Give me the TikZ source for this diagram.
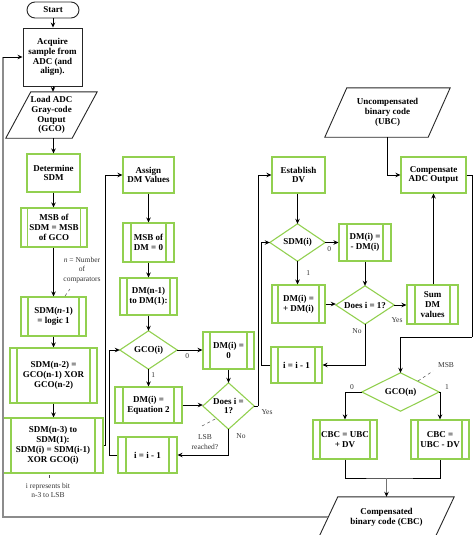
\documentclass[tikz,border=0pt]{standalone}
\usepackage{fontspec}
\setmainfont{Liberation Serif}
\usetikzlibrary{shapes.geometric,arrows.meta,calc}
\definecolor{gboxc}{RGB}{146,208,80}
\newcommand\mypara[2]{\draw[kline] ($(#1.north west)+(#2,0)$) -- (#1.north east) -- ($(#1.south east)-(#2,0)$) -- (#1.south west) -- cycle;}
\newcommand\mydia[1]{\draw[gboxc, line width=1.1pt] (#1.north) -- (#1.east) -- (#1.south) -- (#1.west) -- cycle;}
\tikzset{
  base/.style={align=center, inner sep=0.5pt, font=\fontsize{9}{9.8}\selectfont\bfseries},
  kline/.style={draw=black!85, line width=0.9pt},
  gbox/.style={base, draw=gboxc, line width=1.1pt, fill=white},
  kbox/.style={base, draw=black!85, line width=0.9pt, fill=white},
  proc/.style={gbox, path picture={
     \draw[gboxc, line width=1.1pt] ($(path picture bounding box.north west)+(#1,0)$) -- ($(path picture bounding box.south west)+(#1,0)$);
     \draw[gboxc, line width=1.1pt] ($(path picture bounding box.north east)-(#1,0)$) -- ($(path picture bounding box.south east)-(#1,0)$);}},
  proc/.default=7,
  dia/.style={base, inner sep=0pt},
  conn/.style={draw=black, line width=0.85pt, -{Stealth[length=5pt,width=4.5pt]}},
  plain/.style={draw=black, line width=0.85pt},
  fb/.style={draw=black!45, line width=1.5pt},
  lab/.style={font=\fontsize{7.5}{9}\selectfont, inner sep=0.5pt, text=black!80, align=center},
  lead/.style={draw=black!70, line width=0.5pt, dashed}
}
\begin{document}
\begin{tikzpicture}[x=1pt,y=-1pt]
\useasboundingbox (0,0) rectangle (474,535);
\clip (0,0) rectangle (474,535);
% --- left column
\node[kbox, rounded corners=8pt, minimum width=52, minimum height=16] (start) at (53,10) {Start};
\node[kbox, minimum width=59, minimum height=58] (acq) at (52.5,57) {Acquire\\sample from\\ADC (and\\align).};
\node[base, minimum width=91, minimum height=46] (load) at (51.5,115) {Load ADC\\Gray-code\\Output\\(GCO)};
\mypara{load}{25}
\node[gbox, minimum width=53, minimum height=38] (detsdm) at (53.5,173) {Determine\\SDM};
\node[proc=6.5, minimum width=66, minimum height=39] (msbsdm) at (54,227.5) {MSB of\\SDM = MSB\\of GCO};
\node[proc=7, minimum width=65, minimum height=39] (sdm1) at (53.5,316.5) {SDM(\textit{n}-1)\\= logic 1};
\node[proc=7, minimum width=87, minimum height=55] (sdm2) at (53.5,375.5) {SDM(n-2) =\\GCO(n-1) XOR\\GCO(n-2)};
\node[proc=8, minimum width=100, minimum height=55] (sdm3) at (53,445.5) {SDM(n-3) to\\SDM(1):\\SDM(i) = SDM(i-1)\\XOR GCO(i)};
% --- DM column
\node[gbox, minimum width=51, minimum height=36] (assign) at (148.5,175) {Assign\\DM Values};
\node[proc=8, minimum width=51, minimum height=39] (msbdm) at (148.5,242.5) {MSB of\\DM = 0};
\node[proc=7, minimum width=57, minimum height=37] (dmn1) at (148.5,296.5) {DM(n-1)\\to DM(1):};
\node[dia, minimum width=57, minimum height=38] (gcoi) at (148.5,350) {GCO(i)};
\mydia{gcoi}
\node[proc=7, minimum width=51, minimum height=37] (dmi0) at (228.5,350.5) {DM(i) =\\0};
\node[proc=8, minimum width=67, minimum height=36] (dmeq) at (148.5,405) {DM(i) =\\Equation 2};
\node[dia, minimum width=51, minimum height=46] (doesi) at (228.5,406) {Does i =\\1?};
\mydia{doesi}
\node[proc=8, minimum width=59, minimum height=36] (iim1) at (147.5,455) {i = i - 1};
% --- DV column
\node[gbox, minimum width=53, minimum height=36] (estdv) at (298.5,175) {Establish\\DV};
\node[dia, minimum width=55, minimum height=37] (sdmi) at (297.5,242.5) {SDM(i)};
\mydia{sdmi}
\node[proc=8, minimum width=52, minimum height=37] (dmneg) at (365,242.5) {DM(i) =\\- DM(i)};
\node[proc=6, minimum width=53, minimum height=38] (dmpos) at (298.5,304) {DM(i) =\\+ DM(i)};
\node[dia, minimum width=58, minimum height=38] (doesi2) at (365,305) {Does i = 1?};
\mydia{doesi2}
\node[proc=8, minimum width=51, minimum height=39] (sum) at (432.5,304.5) {Sum\\DM\\values};
\node[proc=7, minimum width=51, minimum height=36] (iim2) at (296.5,365) {i = i - 1};
% --- compensation
\node[gbox, minimum width=65, minimum height=36] (comp) at (433.5,175) {Compensate\\ADC Output};
\node[base, minimum width=125, minimum height=49] (ubc) at (387.5,112.5) {Uncompensated\\binary code\\(UBC)};
\mypara{ubc}{22}
\node[dia, minimum width=77, minimum height=38] (gcon) at (400.5,392) {GCO(n)};
\mydia{gcon}
\node[proc=7, minimum width=64, minimum height=39] (cbcp) at (345,439.5) {CBC = UBC\\+ DV};
\node[proc=7, minimum width=58, minimum height=39] (cbcm) at (440,439.5) {CBC =\\UBC - DV};
\node[base, minimum width=135, minimum height=40] (cbc) at (386.5,517) {Compensated\\binary code (CBC)};
\mypara{cbc}{19}
% --- coordinates
\coordinate (fbc) at (3,57);
\coordinate (cbcl) at ($(cbc.west)+(9.5,0)$);
\coordinate (rt) at (472,337);
\coordinate (mg) at (386.5,478);
% --- feedback loop
\draw[fb] (cbcl) -| (fbc);
\draw[conn] (fbc) -- (acq.west);
% --- left column connectors
\draw[conn] (start.south) -- (start.south |- acq.north);
\draw[conn] (acq.south -| start.south) -- (start.south |- load.north);
\draw[conn] (load.south -| detsdm.north) -- (detsdm.north);
\draw[conn] (detsdm.south) -- (detsdm.south |- msbsdm.north);
\draw[conn] (msbsdm.south -| detsdm.south) -- (detsdm.south |- sdm1.north);
\draw[conn] (sdm1.south) -- (sdm1.south |- sdm2.north);
\draw[conn] (sdm2.south) -- (sdm2.south |- sdm3.north);
\draw[conn] (sdm3.east) -- ++(2,0) |- (assign.west);
% --- DM connectors
\draw[conn] (assign.south) -- (msbdm.north);
\draw[conn] (msbdm.south) -- (dmn1.north);
\draw[conn] (dmn1.south) -- (gcoi.north);
\draw[conn] (gcoi.east) -- (gcoi.east -| dmi0.west) node[lab, pos=0.4, below=3pt] {0};
\draw[conn] (gcoi.south) -- (dmeq.north) node[lab, pos=0.35, right=2pt] {1};
\draw[conn] (dmi0.south) -- (doesi.north);
\draw[conn] (dmeq.east) -- (dmeq.east -| doesi.west);
\draw[plain] (doesi.east) -- ++(4,0) coordinate (yes1);
\draw[conn] (yes1) |- (estdv.west);
\draw[conn] (doesi.south) |- (iim1.east);
\draw[conn] (iim1.west) -- ++(-8,0) |- (gcoi.west);
% --- DV connectors
\draw[conn] (estdv.south -| sdmi.north) -- (sdmi.north);
\draw[conn] (sdmi.east) -- (sdmi.east -| dmneg.west) node[lab, pos=0.3, below=3pt] {0};
\draw[conn] (sdmi.south) -- (sdmi.south |- dmpos.north) node[lab, pos=0.5, right=8pt] {1};
\draw[conn] (dmneg.south) -- (doesi2.north);
\draw[conn] (dmpos.east) -- (dmpos.east -| doesi2.west);
\draw[conn] (doesi2.east) -- (doesi2.east -| sum.west);
\draw[conn] (doesi2.south) |- (iim2.east);
\draw[conn] (iim2.west) -- ++(-9,0) |- (sdmi.west);
\draw[conn] (sum.north -| comp.south) -- (comp.south);
\draw[conn] (ubc.south) |- (comp.west);
\draw[plain] (comp.east) -| (rt);
\draw[conn] (rt) -| (gcon.north);
\draw[conn] (gcon.west) -| (cbcp.north);
\draw[conn] (gcon.east) -| (cbcm.north);
\draw[plain] (cbcp.south) |- (mg) -| (cbcm.south);
\draw[draw=black!55, line width=0.85pt, -{Stealth[length=5pt,width=4.5pt,black]}] (mg) -- (cbc.north);
% --- labels
\node[lab] (yeslab1) at (267,412) {Yes};
\node[lab] (nolab1) at (241,436) {No};
\node[lab] (yeslab2) at (397,320) {Yes};
\node[lab] (nolab2) at (357,331) {No};
\node[lab] (zerolab3) at (352,387) {0};
\node[lab] (onelab3) at (447,387) {1};
\node[lab, font=\fontsize{7.5}{9.5}\selectfont] (ncomp) at (82,270) {\textit{n} = Number\\of\\comparators};
\draw[lead] (65,296) -- (70,289);
\node[lab, font=\fontsize{7.5}{9}\selectfont] (irep) at (48,490) {i represents bit\\n-3 to LSB};
\draw[draw=black!70, line width=0.5pt] (49,475) -- (49,478);
\node[lab, font=\fontsize{7.5}{9.5}\selectfont] (lsb) at (205,442) {LSB\\reached?};
\draw[lead] (202,426) -- (217,418);
\node[lab] (msb) at (446,365) {MSB};
\draw[lead] (418,381) -- (433,371);
\end{tikzpicture}
\end{document}
